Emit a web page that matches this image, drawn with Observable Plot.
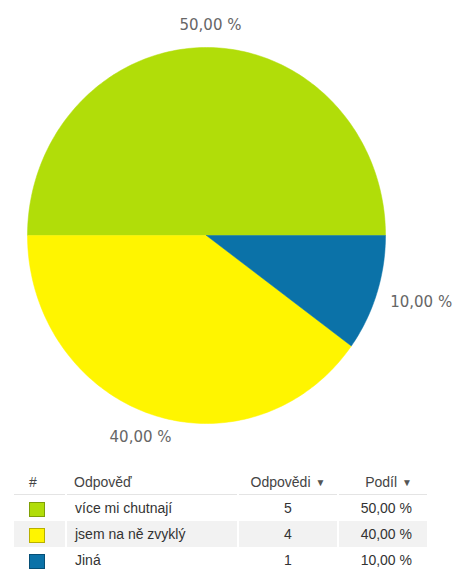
<!DOCTYPE html>
<html>
<head>
<meta charset="utf-8">
<script src="https://cdn.jsdelivr.net/npm/d3@7"></script>
<script src="https://cdn.jsdelivr.net/npm/@observablehq/plot@0.6"></script>
<style>
  html, body { margin: 0; padding: 0; background: #fff; }
  body { width: 455px; height: 569px; overflow: hidden; }
  #chart svg { display: block; }
  table { border-collapse: collapse; margin-left: 14px; width: 413px; table-layout: fixed;
          font-family: "Liberation Sans", Arial, sans-serif; font-size: 14px; color: #333; }
  th { font-weight: normal; color: #444; height: 24px; padding: 0; border-bottom: 1px solid #e4e4e4; }
  td { height: 26px; padding: 0; border-left: 2px solid #fff; line-height: 26px; }
  td:first-child, th:first-child { border-left: none; }
  tr.alt td { background: #f2f2f2; }
  .c0 { text-align: left; padding-left: 15px; }
  .c1 { text-align: left; padding-left: 8px; }
  .c2 { text-align: center; }
  .c3 { text-align: right; padding-right: 15px; }
  .sw { display: inline-block; width: 14px; height: 13px; vertical-align: middle; }
  .arr { font-size: 10px; color: #555; margin-left: 5px; vertical-align: 1px; }
</style>
</head>
<body>
<div id="chart"></div>
<div id="table"></div>
<script>
const categories = ["více mi chutnají", "jsem na ně zvyklý", "Jiná"];
const counts = [5, 4, 1];
const shareLabels = ["50,00 %", "40,00 %", "10,00 %"];
const colors = ["#b1dd09", "#fff500", "#0b72a8"];
const borderColors = ["#7f9f06", "#b8b000", "#064f76"];

const total = d3.sum(counts);
// Slices run counter-clockwise starting from the right (3 o'clock)
let acc = 0;
const slices = categories.map((c, i) => {
  const a0 = acc / total * 2 * Math.PI;
  acc += counts[i];
  const a1 = acc / total * 2 * Math.PI;
  return { c, i, a0, a1, mid: (a0 + a1) / 2 };
});

const polyPts = [];
for (const s of slices) {
  polyPts.push({ c: s.c, x: 0, y: 0 });
  const n = Math.max(2, Math.ceil((s.a1 - s.a0) / (Math.PI / 180)));
  for (let k = 0; k <= n; k++) {
    const a = s.a0 + (s.a1 - s.a0) * k / n;
    polyPts.push({ c: s.c, x: Math.cos(a), y: Math.sin(a) });
  }
  polyPts.push({ c: s.c, x: 0, y: 0 });
}

const labels = slices.map(s => ({
  c: s.c, label: shareLabels[s.i],
  x: 1.12 * Math.cos(s.mid), y: 1.12 * Math.sin(s.mid),
  side: Math.cos(s.mid) > 0.5 ? "right" : (Math.sin(s.mid) > 0 ? "top" : "bottom")
}));

const txt = { x: "x", y: "y", text: "label", fill: "#666", fontSize: 15 };
const chart = Plot.plot({
  width: 455,
  height: 470,
  margin: 0,
  x: { domain: [-1, 1], range: [27, 385], axis: null },
  y: { domain: [-1, 1], range: [423, 47], axis: null },
  color: { domain: categories, range: colors },
  style: { fontFamily: "DejaVu Sans, sans-serif" },
  marks: [
    Plot.line(polyPts, { x: "x", y: "y", z: "c", fill: "c", stroke: "c", strokeWidth: 0.5, curve: "linear" }),
    Plot.text(labels.filter(d => d.side === "top"), { ...txt, textAnchor: "middle", dx: 4 }),
    Plot.text(labels.filter(d => d.side === "bottom"), { ...txt, textAnchor: "middle", dx: -4, dy: 1 }),
    Plot.text(labels.filter(d => d.side === "right"), { ...txt, textAnchor: "start", dx: -7, dy: 2 })
  ]
});
document.getElementById("chart").appendChild(chart);

// Table
const tbl = document.createElement("table");
tbl.innerHTML = `
<colgroup><col style="width:52px"><col style="width:172px"><col style="width:100px"><col style="width:89px"></colgroup>
<thead><tr>
  <th class="c0">#</th><th class="c1">Odpověď</th>
  <th class="c2">Odpovědi<span class="arr">▼</span></th>
  <th class="c3">Podíl<span class="arr">▼</span></th>
</tr></thead>
<tbody>` + categories.map((c, i) => `
<tr class="${i === 1 ? "alt" : ""}">
  <td class="c0"><span class="sw" style="background:${colors[i]};border:1px solid ${borderColors[i]}"></span></td>
  <td class="c1">${c}</td>
  <td class="c2">${counts[i]}</td>
  <td class="c3">${shareLabels[i]}</td>
</tr>`).join("") + `</tbody>`;
document.getElementById("table").appendChild(tbl);
</script>
</body>
</html>
